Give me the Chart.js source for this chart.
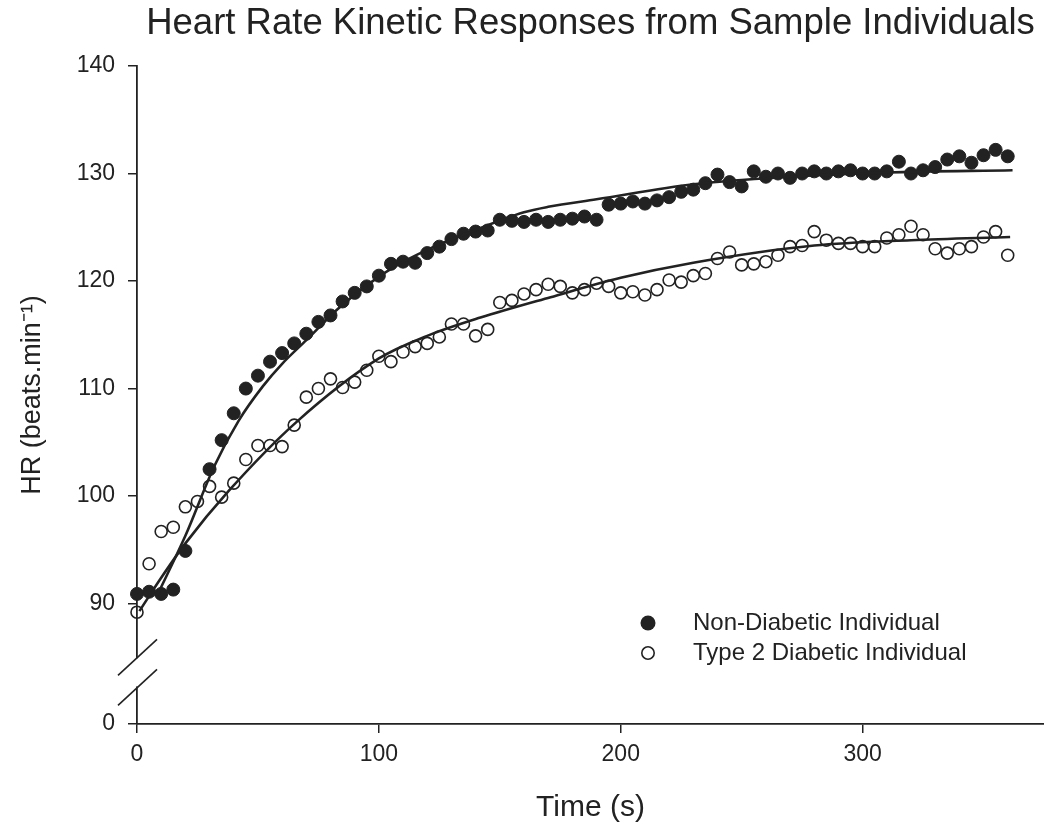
<!DOCTYPE html>
<html>
<head>
<meta charset="utf-8">
<script src="https://cdn.jsdelivr.net/npm/chart.js@4.4.0/dist/chart.umd.min.js"></script>
<style>
html,body{margin:0;padding:0;background:#ffffff;}
#wrap{width:1044px;height:832px;}
</style>
</head>
<body>
<div id="wrap"><canvas id="c" width="1044" height="832"></canvas></div>
<script>
// ---------- DATA ----------
const chartTitle = 'Heart Rate Kinetic Responses from Sample Individuals';
const xTitle = 'Time (s)';
const yTitle = 'HR (beats.min\u207B\u00B9)';
const seriesLabels = ['Non-Diabetic Individual', 'Type 2 Diabetic Individual'];

const timeS = [0,5,10,15,20,25,30,35,40,45,50,55,60,65,70,75,80,85,90,95,
  100,105,110,115,120,125,130,135,140,145,150,155,160,165,170,175,180,185,190,195,
  200,205,210,215,220,225,230,235,240,245,250,255,260,265,270,275,280,285,290,295,
  300,305,310,315,320,325,330,335,340,345,350,355,360];

const nonDiabeticHR = [90.9,91.1,90.9,91.3,94.9,null,102.5,105.2,107.7,110.0,111.2,112.5,113.3,114.2,115.1,116.2,116.8,118.1,118.9,119.5,
  120.5,121.6,121.8,121.7,122.6,123.2,123.9,124.4,124.6,124.7,125.7,125.6,125.5,125.7,125.5,125.7,125.8,126.0,125.7,127.1,
  127.2,127.4,127.2,127.5,127.8,128.3,128.5,129.1,129.9,129.2,128.8,130.2,129.7,130.0,129.6,130.0,130.2,130.0,130.2,130.3,
  130.0,130.0,130.2,131.1,130.0,130.3,130.6,131.3,131.6,131.0,131.7,132.2,131.6];

const diabeticHR = [89.2,93.7,96.7,97.1,99.0,99.5,100.9,99.9,101.2,103.4,104.7,104.7,104.6,106.6,109.2,110.0,110.9,110.1,110.6,111.7,
  113.0,112.5,113.4,113.9,114.2,114.8,116.0,116.0,114.9,115.5,118.0,118.2,118.8,119.2,119.7,119.5,118.9,119.2,119.8,119.5,
  118.9,119.0,118.7,119.2,120.1,119.9,120.5,120.7,122.1,122.7,121.5,121.6,121.8,122.4,123.2,123.3,124.6,123.8,123.5,123.5,
  123.2,123.2,124.0,124.3,125.1,124.3,123.0,122.6,123.0,123.2,124.1,124.6,122.4];

// fitted model curves
const nonDiabeticFitT  = [8,20,32,42,52,60,70,83,95,107,120,135,160,170,190,230,270,310,362];
const nonDiabeticFitHR = [90.6,96.3,102.8,107.0,110.2,112.3,114.5,117.4,119.6,121.4,122.9,124.3,126.4,126.9,127.6,129.0,129.7,130.1,130.3];
const diabeticFitT  = [1,10,20,38,66,100,120,142,171,200,230,280,320,361];
const diabeticFitHR = [89.3,92.4,95.6,100.5,106.9,112.8,114.9,116.6,118.5,120.3,121.7,123.3,123.8,124.1];

const xTickValues = [0,100,200,300];
const yTickValues = [90,100,110,120,130,140];
const yBrokenZeroValue = 78.8;   // scale position that carries the "0" label below the axis break
const yBreakValues = [85.0, 82.2];

// ---------- CHART ----------
const FONT = "'Liberation Sans', Arial, Helvetica, sans-serif";
const INK = '#222222';

function toPoints(xs, ys){
  const out = [];
  for (let i = 0; i < xs.length; i++) if (ys[i] !== null) out.push({x: xs[i], y: ys[i]});
  return out;
}

const decorPlugin = {
  id: 'decor',
  beforeDraw(chart){
    const c = chart.ctx;
    c.save();
    c.fillStyle = '#ffffff';
    c.fillRect(0, 0, chart.width, chart.height);
    c.restore();
  },
  afterDraw(chart){
    const c = chart.ctx;
    const ys = chart.scales.y;
    const ax = chart.chartArea.left;
    const yA = ys.getPixelForValue(yBreakValues[0]);
    const yB = ys.getPixelForValue(yBreakValues[1]);
    c.save();
    // gap in the y axis
    c.fillStyle = '#ffffff';
    c.fillRect(ax - 4, yA + 1, 8, (yB - yA) - 2);
    // break slashes
    c.strokeStyle = INK;
    c.lineWidth = 1.6;
    [yA, yB].forEach(y => {
      c.beginPath();
      c.moveTo(ax - 19, y + 18);
      c.lineTo(ax + 20, y - 18);
      c.stroke();
    });
    // legend inside the plot
    const lx = 648, ly = 623, gap = 30;
    c.font = '24px ' + FONT;
    c.textBaseline = 'middle';
    c.textAlign = 'left';
    c.fillStyle = INK;
    c.beginPath(); c.arc(lx, ly, 7.5, 0, Math.PI * 2); c.fill();
    c.fillText(chart.data.datasets[2].label, 693, ly);
    c.lineWidth = 1.6;
    c.beginPath(); c.arc(lx, ly + gap, 6.2, 0, Math.PI * 2); c.stroke();
    c.fillText(chart.data.datasets[3].label, 693, ly + gap);
    c.restore();
  }
};

new Chart(document.getElementById('c').getContext('2d'), {
  type: 'scatter',
  data: {
    datasets: [
      { label: seriesLabels[0] + ' fit', data: toPoints(nonDiabeticFitT, nonDiabeticFitHR), showLine: true,
        pointRadius: 0, borderColor: INK, borderWidth: 2.6, cubicInterpolationMode: 'monotone', order: 0, clip: false },
      { label: seriesLabels[1] + ' fit', data: toPoints(diabeticFitT, diabeticFitHR), showLine: true,
        pointRadius: 0, borderColor: INK, borderWidth: 2.6, cubicInterpolationMode: 'monotone', order: 0, clip: false },
      { label: seriesLabels[0], data: toPoints(timeS, nonDiabeticHR), showLine: false,
        pointRadius: 6.5, pointBorderWidth: 1, pointBackgroundColor: INK, pointBorderColor: INK, order: 1, clip: false },
      { label: seriesLabels[1], data: toPoints(timeS, diabeticHR), showLine: false,
        pointRadius: 6.0, pointBorderWidth: 1.6, pointBackgroundColor: 'rgba(255,255,255,0)', pointBorderColor: INK, order: 1, clip: false }
    ]
  },
  options: {
    responsive: false,
    animation: false,
    devicePixelRatio: 1,
    layout: { padding: 0, autoPadding: false },
    plugins: {
      legend: { display: false },
      tooltip: { enabled: false },
      title: {
        display: true, text: chartTitle, fullSize: false, color: INK,
        font: { family: FONT, size: 36.5, weight: 'normal' },
        padding: { top: 2.5, bottom: 19.7 }
      }
    },
    scales: {
      x: {
        type: 'linear', min: 0, max: 375,
        afterBuildTicks: s => { s.ticks = xTickValues.map(v => ({ value: v })); },
        afterFit: s => { s.height = 108; },
        ticks: { autoSkip: false, maxRotation: 0, color: INK, padding: 8, font: { family: FONT, size: 23 } },
        grid: { display: true, drawOnChartArea: false, drawTicks: true, tickLength: 9, color: INK, lineWidth: 1.5 },
        border: { display: true, color: INK, width: 1.8 },
        title: { display: true, text: xTitle, color: INK, font: { family: FONT, size: 30 }, padding: { top: 0, bottom: 6 } }
      },
      y: {
        type: 'linear', min: yBrokenZeroValue, max: 140,
        afterBuildTicks: s => { s.ticks = [yBrokenZeroValue].concat(yTickValues).map(v => ({ value: v })); },
        afterFit: s => { s.width = 137; },
        ticks: { autoSkip: false, color: INK, padding: 13, font: { family: FONT, size: 23 },
          callback: v => (v === yBrokenZeroValue ? '0' : String(v)) },
        grid: { display: true, drawOnChartArea: false, drawTicks: true, tickLength: 9, color: INK, lineWidth: 1.5 },
        border: { display: true, color: INK, width: 1.8 },
        title: { display: true, text: yTitle, color: INK, font: { family: FONT, size: 27 }, padding: { top: 16, bottom: 0 } }
      }
    }
  },
  plugins: [decorPlugin]
});
</script>
</body>
</html>
